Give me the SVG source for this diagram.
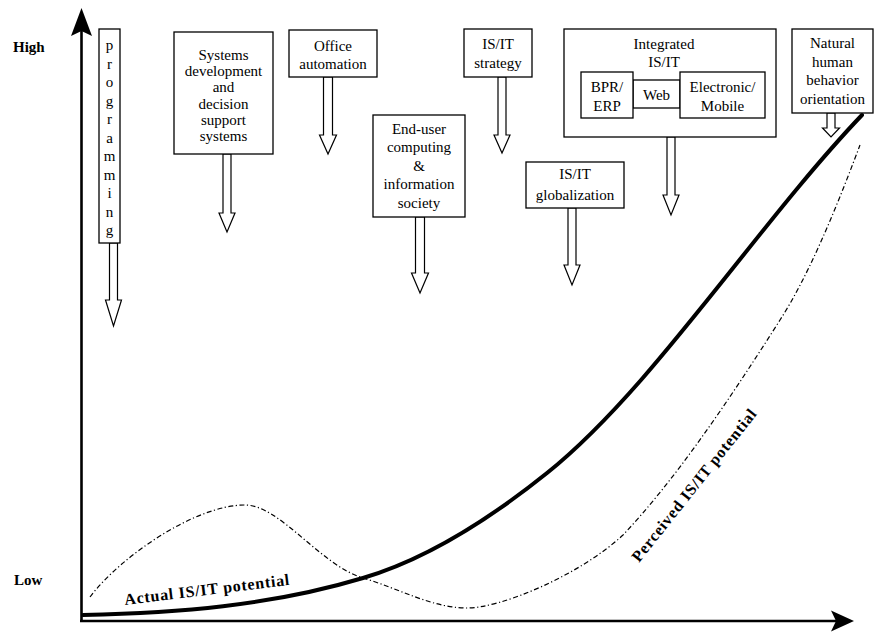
<svg xmlns="http://www.w3.org/2000/svg" width="874" height="632" viewBox="0 0 874 632">
<style>
.box{fill:#fff;stroke:#000;stroke-width:1.3}
.t{font-family:"Liberation Serif","Times New Roman",serif;font-size:15px;fill:#000;text-anchor:middle}
.lbl{font-family:"Liberation Serif","Times New Roman",serif;font-size:15px;font-weight:bold;fill:#000}
.cl{font-family:"Liberation Serif","Times New Roman",serif;font-size:16px;font-weight:bold;fill:#000}
.barrow{fill:#fff;stroke:#000;stroke-width:1.2;stroke-linejoin:miter}
.axis{stroke:#000;stroke-width:2.6;fill:none}
</style>
<rect width="874" height="632" fill="#fff"/>
<g id="axes">
<line class="axis" x1="81.5" y1="28" x2="81.5" y2="622"/>
<line class="axis" x1="80" y1="621" x2="838" y2="621"/>
<polygon points="81.5,8 92,36 81.5,31 71,36" fill="#000"/>
<polygon points="854,621 831,610.5 836,621 831,631.5" fill="#000"/>
<text class="lbl" x="13" y="52">High</text>
<text class="lbl" x="14" y="585">Low</text>
</g>
<g id="curves">
<path d="M90,597 C120,557 195,505 245,505 C280,505 320,565 363,578 C400,589 430,607 465,608 C500,609 580,575 623,535 C675,480 728,402 780,320 C807,278 833,217 860,145" fill="none" stroke="#000" stroke-width="1.2" stroke-dasharray="5 2.5 1.2 2.5"/>
<path d="M83,615 C176,613 270,606 363,578 C424,560 486,522 547,473 C652,389 757,225 862,115" fill="none" stroke="#000" stroke-width="4" stroke-linecap="round"/>
<text class="cl" transform="translate(125,605) rotate(-7)" textLength="166" lengthAdjust="spacing">Actual IS/IT potential</text>
<text class="cl" transform="translate(639,563) rotate(-51.5)" textLength="190" lengthAdjust="spacing">Perceived IS/IT potential</text>
</g>
<g id="connectors">
<path class="barrow" d="M109.5,243 V300 H105.5 L113.5,326 L121.5,300 H117.5 V243 Z"/>
<path class="barrow" d="M223,154 V213 H219 L227,232 L235,213 H231 V154 Z"/>
<path class="barrow" d="M323.5,77 V135 H319.5 L328,154 L336.5,135 H332.5 V77 Z"/>
<path class="barrow" d="M498,77 V135 H494 L502,153 L510,135 H506 V77 Z"/>
<path class="barrow" d="M415.5,217 V273 H411.5 L420,293 L428.5,273 H424.5 V217 Z"/>
<path class="barrow" d="M568,208 V265 H564 L572,285 L580,265 H576 V208 Z"/>
<path class="barrow" d="M667,137 V195 H663 L671,215 L679,195 H675 V137 Z"/>
<path class="barrow" d="M827,113 V128 H822.5 L831,137 L839.5,128 H835 V113 Z"/>
</g>
<g id="node-programming">
<rect class="box" x="99" y="29" width="21" height="214"/>
<text class="t" x="109.5" y="50">p</text>
<text class="t" x="109.5" y="68.5">r</text>
<text class="t" x="109.5" y="87">o</text>
<text class="t" x="109.5" y="105.5">g</text>
<text class="t" x="109.5" y="124">r</text>
<text class="t" x="109.5" y="142.5">a</text>
<text class="t" x="109.5" y="161">m</text>
<text class="t" x="109.5" y="179.5">m</text>
<text class="t" x="109.5" y="198">i</text>
<text class="t" x="109.5" y="216.5">n</text>
<text class="t" x="109.5" y="235">g</text>
</g>
<g id="node-systems">
<rect class="box" x="174" y="32" width="99" height="122"/>
<text class="t" x="223.5" y="60">Systems</text>
<text class="t" x="223.5" y="76.2">development</text>
<text class="t" x="223.5" y="92.4">and</text>
<text class="t" x="223.5" y="108.6">decision</text>
<text class="t" x="223.5" y="124.8">support</text>
<text class="t" x="223.5" y="141">systems</text>
</g>
<g id="node-office">
<rect class="box" x="289" y="30" width="88" height="47"/>
<text class="t" x="333" y="51">Office</text>
<text class="t" x="333" y="69">automation</text>
</g>
<g id="node-enduser">
<rect class="box" x="373" y="115" width="92" height="102"/>
<text class="t" x="419" y="134">End-user</text>
<text class="t" x="419" y="152.4">computing</text>
<text class="t" x="419" y="170.8">&amp;</text>
<text class="t" x="419" y="189.2">information</text>
<text class="t" x="419" y="207.6">society</text>
</g>
<g id="node-strategy">
<rect class="box" x="464" y="29" width="68" height="48"/>
<text class="t" x="498" y="49">IS/IT</text>
<text class="t" x="498" y="67.5">strategy</text>
</g>
<g id="node-globalization">
<rect class="box" x="526" y="162" width="98" height="46"/>
<text class="t" x="575" y="179">IS/IT</text>
<text class="t" x="575" y="200">globalization</text>
</g>
<g id="node-integrated">
<rect class="box" x="564" y="29" width="212" height="108"/>
<text class="t" x="664" y="48.5">Integrated</text>
<text class="t" x="664" y="66.5">IS/IT</text>
<rect class="box" x="633" y="80" width="47" height="28"/>
<text class="t" x="656.5" y="100">Web</text>
<rect class="box" x="581" y="72" width="52" height="46"/>
<text class="t" x="607" y="92">BPR/</text>
<text class="t" x="607" y="111">ERP</text>
<rect class="box" x="680" y="72" width="85" height="46"/>
<text class="t" x="722.5" y="92">Electronic/</text>
<text class="t" x="722.5" y="111">Mobile</text>
</g>
<g id="node-natural">
<rect class="box" x="792" y="29" width="81" height="84"/>
<text class="t" x="832.5" y="48">Natural</text>
<text class="t" x="832.5" y="66.5">human</text>
<text class="t" x="832.5" y="85">behavior</text>
<text class="t" x="832.5" y="104">orientation</text>
</g>
</svg>
